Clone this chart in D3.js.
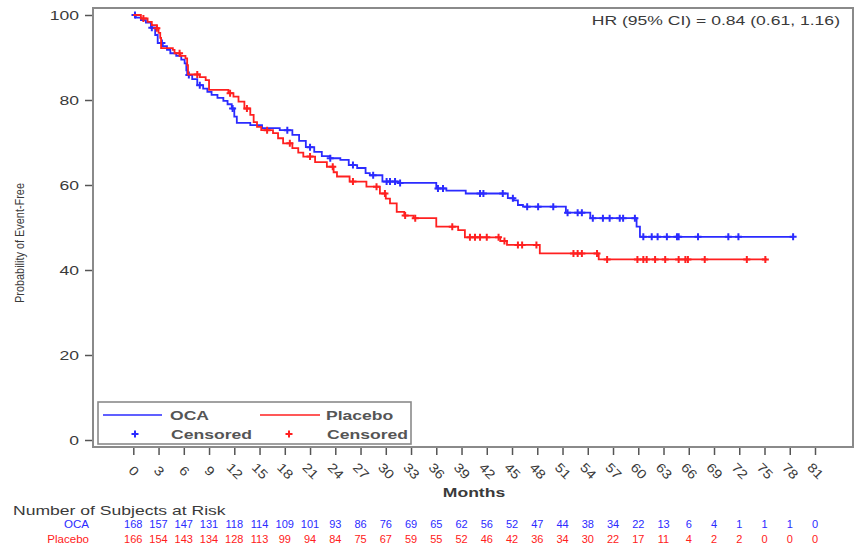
<!DOCTYPE html>
<html><head><meta charset="utf-8">
<script src="https://cdn.jsdelivr.net/npm/d3@7"></script>
<style>
html,body{margin:0;padding:0;background:#fff;}
svg text{font-family:"Liberation Sans",Arial,sans-serif;}
</style></head>
<body><svg id="c" width="858" height="546"></svg>
<script>
// ---------- data ----------
const monthTicks = [0,3,6,9,12,15,18,21,24,27,30,33,36,39,42,45,48,51,54,57,60,63,66,69,72,75,78,81];
const yTicks = [0,20,40,60,80,100];
const ocaAtRisk = [168,157,147,131,118,114,109,101,93,86,76,69,65,62,56,52,47,44,38,34,22,13,6,4,1,1,1,0];
const placeboAtRisk = [166,154,143,134,128,113,99,94,84,75,67,59,55,52,46,42,36,34,30,22,17,11,4,2,2,0,0,0];

const ocaTimes = [0,0.3,0.9,1.5,2.1,2.6,2.9,3.5,4.0,4.4,5.1,5.7,6.1,6.3,6.4,7.0,7.6,8.3,8.8,9.3,10.0,10.7,11.2,11.7,12.0,12.3,13.9,15.3,17.4,18.9,19.7,20.5,21.5,22.4,23.4,24.6,25.6,26.6,27.6,28.1,29.6,31.5,36.0,37.2,39.5,44.5,45.2,45.7,46.3,51.4,54.3,59.8,60.2];
const ocaSurv  = [100,99.4,98.8,98.2,97.0,95.3,93.4,92.7,91.8,91.0,90.4,89.5,88.6,87.0,85.9,84.9,83.5,82.7,81.9,81.2,80.5,79.8,79.0,78.0,76.1,74.6,74.1,73.4,72.9,71.8,70.4,68.9,67.8,66.8,66.3,65.9,64.7,64.0,62.8,62.3,60.8,60.5,59.2,58.7,58.0,56.9,56.4,55.3,54.9,53.5,52.2,50.2,47.8];
const ocaEnd = 78.4;
const ocaCensor = [0.2,2.2,3.4,6.6,7.9,11.8,18.3,21.0,23.4,26.1,28.5,30.1,30.5,31.1,31.7,36.2,36.8,41.2,41.6,43.9,45.1,46.8,48.1,49.9,51.6,52.8,53.3,54.6,55.8,56.6,57.8,58.2,59.6,60.6,61.6,62.3,63.4,64.6,64.8,67.1,70.7,71.9,78.4];

const placeboTimes = [0,0.9,1.7,2.2,2.8,3.0,3.2,3.3,4.7,4.9,5.6,6.2,6.4,6.5,7.9,8.6,9.0,11.3,11.9,12.5,13.2,13.9,14.3,14.7,15.2,16.6,17.2,17.8,18.9,19.6,20.2,21.6,23.0,23.8,24.2,25.7,27.7,29.3,30.0,30.5,31.3,32.2,33.3,36.0,38.6,39.4,43.6,44.4,48.3,55.3];
const placeboSurv  = [100,99.2,98.4,97.6,96.9,95.8,94.6,92.2,91.8,91.0,90.4,89.8,88.2,86.0,85.4,84.7,82.4,81.6,80.8,79.6,78.0,76.5,74.8,73.7,72.9,72.2,71.0,69.8,68.7,67.6,66.7,65.4,64.3,63.0,62.0,60.8,59.6,58.0,56.8,55.7,53.7,52.8,52.2,50.2,49.4,47.7,46.8,45.9,43.9,42.5];
const placeboEnd = 75.3;
const placeboCensor = [1.2,2.8,5.5,7.6,11.5,13.5,15.9,18.6,21.0,23.7,26.1,28.9,29.9,32.3,33.5,37.9,40.0,40.6,41.2,42.0,43.4,44.1,45.7,46.2,47.9,52.3,52.8,53.3,55.1,56.3,59.9,60.6,61.0,62.0,63.2,64.8,65.6,65.9,67.9,72.9,75.1];

const seriesNames = ["OCA","Placebo"];
const hrText = "HR (95% CI) = 0.84 (0.61, 1.16)";

// ---------- drawing ----------
const BLUE = "#2b2bff", RED = "#ff2020", TXT = "#3a3a3a", FRAME = "#8a8a8a";
const STRETCH = 1.35;
const svg = d3.select("#c");
const x = d3.scaleLinear().domain([0,81]).range([133.3,815]);
const y = d3.scaleLinear().domain([0,100]).range([440,15]);

function stretch(sel, f){
  sel.each(function(){
    const w = this.getComputedTextLength();
    d3.select(this).attr("textLength", w*(f||STRETCH)).attr("lengthAdjust","spacingAndGlyphs");
  });
}

// frame
svg.append("rect").attr("x",93).attr("y",8).attr("width",760).attr("height",439)
  .attr("fill","none").attr("stroke",FRAME).attr("stroke-width",2);

// y axis
const ya = svg.append("g").attr("transform","translate(92,0)")
  .call(d3.axisLeft(y).tickValues(yTicks).tickSize(7).tickPadding(6));
ya.select(".domain").remove();
ya.selectAll("line").attr("stroke","#555").attr("stroke-width",1.5);
ya.selectAll("text").attr("font-size",13).attr("fill",TXT).attr("font-family","Liberation Sans, Arial").call(stretch);

// x axis
const xa = svg.append("g").attr("transform","translate(0,448)")
  .call(d3.axisBottom(x).tickValues(monthTicks).tickSize(7).tickFormat(d3.format("d")));
xa.select(".domain").remove();
xa.selectAll("line").attr("stroke","#555").attr("stroke-width",1.5);
xa.selectAll("text").attr("font-size",13).attr("fill",TXT).attr("font-family","Liberation Sans, Arial")
  .attr("text-anchor","middle").attr("y",0).attr("dy","0.35em")
  .attr("transform","translate(0,23) rotate(45)").call(stretch,1.15);

// axis titles
svg.append("text").attr("x",474).attr("y",497).attr("text-anchor","middle")
  .attr("font-size",13).attr("font-weight","bold").attr("fill",TXT).text("Months").call(stretch);
svg.append("text").attr("transform","translate(24,243) rotate(-90)").attr("text-anchor","middle")
  .attr("font-size",12).attr("fill",TXT).attr("textLength",120).attr("lengthAdjust","spacingAndGlyphs")
  .text("Probability of Event-Free");

// HR text
svg.append("text").attr("x",840).attr("y",25).attr("text-anchor","end")
  .attr("font-size",13).attr("fill",TXT).text(hrText).call(stretch);

// KM curves
function stepData(times, surv, end){
  const d = times.map((t,i)=>[t,surv[i]]);
  d.push([end, surv[surv.length-1]]);
  return d;
}
function survAt(times, surv, t){
  let s = surv[0];
  for(let i=0;i<times.length;i++){ if(times[i]<=t) s = surv[i]; }
  return s;
}
const line = d3.line().x(d=>x(d[0])).y(d=>y(d[1])).curve(d3.curveStepAfter);
const arms = [
  {times:ocaTimes, surv:ocaSurv, end:ocaEnd, cens:ocaCensor, color:BLUE},
  {times:placeboTimes, surv:placeboSurv, end:placeboEnd, cens:placeboCensor, color:RED}
];
const plus = "M-3.5,0H3.5M0,-3.5V3.5";
arms.forEach(a=>{
  svg.append("path").datum(stepData(a.times,a.surv,a.end)).attr("d",line)
    .attr("fill","none").attr("stroke",a.color).attr("stroke-width",1.8);
  svg.append("g").selectAll("path").data(a.cens).join("path")
    .attr("transform",t=>`translate(${x(t)},${y(survAt(a.times,a.surv,t))})`)
    .attr("d",plus).attr("stroke",a.color).attr("stroke-width",2).attr("fill","none");
});

// legend
const lg = svg.append("g");
lg.append("rect").attr("x",98).attr("y",402).attr("width",313).attr("height",42)
  .attr("fill","#fff").attr("stroke",FRAME).attr("stroke-width",1.6);
[[103,162,170,BLUE,135],[260,320,326,RED,289]].forEach((c,i)=>{
  lg.append("line").attr("x1",c[0]).attr("x2",c[1]).attr("y1",415).attr("y2",415).attr("stroke",c[3]).attr("stroke-width",1.6);
  lg.append("text").attr("x",c[2]).attr("y",420).attr("font-size",13).attr("font-weight","bold").attr("fill","#555").text(seriesNames[i]).call(stretch);
  lg.append("path").attr("d",plus).attr("transform",`translate(${c[4]},434)`).attr("stroke",c[3]).attr("stroke-width",2);
  lg.append("text").attr("x",c[2]+1).attr("y",439).attr("font-size",13).attr("font-weight","bold").attr("fill","#555").text("Censored").call(stretch);
});

// at-risk table
svg.append("text").attr("x",13).attr("y",515).attr("font-size",13).attr("fill",TXT)
  .text("Number of Subjects at Risk").call(stretch);
[[ocaAtRisk,"OCA",BLUE,528],[placeboAtRisk,"Placebo",RED,543]].forEach(r=>{
  svg.append("text").attr("x",89).attr("y",r[3]).attr("text-anchor","end").attr("font-size",11)
    .attr("fill",r[2]).text(r[1]).call(stretch,1.05);
  svg.append("g").selectAll("text").data(r[0]).join("text")
    .attr("x",(d,i)=>x(monthTicks[i])).attr("y",r[3]).attr("text-anchor","middle")
    .attr("font-size",11).attr("fill",r[2]).text(d=>d);
});
</script></body></html>
